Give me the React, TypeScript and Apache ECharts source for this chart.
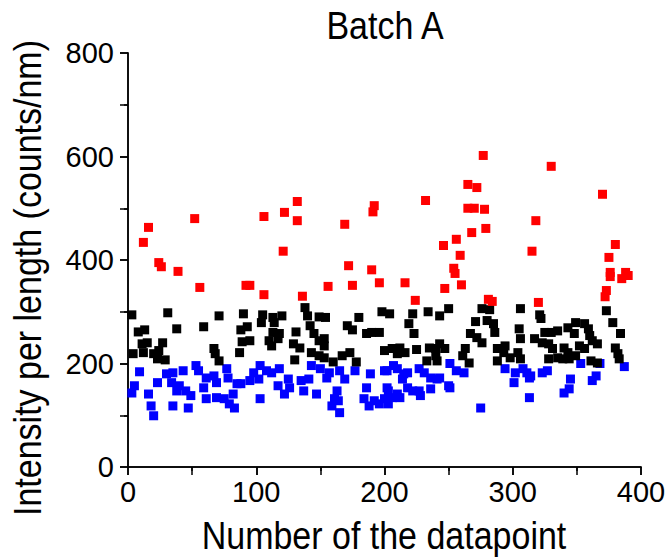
import { useEffect, useRef } from "react";
import * as echarts from "echarts";

const titleText = "Batch A";
const xName = "Number of the datapoint";
const yName = "Intensity per length (counts/nm)";

const redPoints: number[][] = [
  [12, 434], [16, 463], [24, 395], [26, 387], [39, 378], [52, 480], [56, 347], [92, 351], [95, 351],
  [106, 333], [106, 484], [122, 492], [121, 417], [132, 513], [132, 476], [136, 330], [156, 349],
  [169, 469], [172, 389], [175, 351], [192, 505], [191, 493], [190, 381], [196, 356], [216, 356],
  [224, 322], [232, 515], [246, 428], [256, 440], [259, 409], [254, 384], [255, 374], [247, 345],
  [260, 352], [265, 546], [265, 500], [268, 453], [277, 602], [272, 540], [270, 500], [278, 498],
  [279, 461], [281, 324], [284, 320], [330, 581], [318, 476], [315, 417], [320, 318], [370, 527],
  [380, 430], [375, 405], [376, 376], [376, 368], [388, 376], [385, 364], [390, 370], [373, 341], [372, 329],
];

const blackPoints: number[][] = [
  [3, 294], [31, 298], [71, 292], [90, 296], [8, 261], [13, 265], [38, 267], [59, 271], [88, 265], [93, 271],
  [11, 238], [15, 240], [27, 240], [89, 242], [95, 244], [4, 219], [12, 221], [20, 219], [24, 225], [29, 207],
  [23, 209], [67, 229], [68, 219], [71, 205], [87, 221],
  [105, 294], [104, 279], [113, 289], [120, 292], [114, 279], [138, 308], [140, 292], [149, 290], [154, 289],
  [113, 260], [118, 258], [131, 261], [142, 273], [145, 258], [171, 273], [175, 265], [180, 289], [186, 258],
  [190, 260], [196, 260], [198, 300], [110, 244], [112, 234], [117, 248], [129, 238], [134, 230], [149, 244],
  [153, 248], [153, 234], [143, 221], [149, 215], [153, 211], [130, 207], [160, 203], [167, 215], [173, 221],
  [178, 203], [200, 225],
  [204, 296], [222, 296], [219, 277], [223, 258], [234, 300], [243, 292], [250, 306], [276, 306], [282, 304],
  [271, 281], [280, 283], [285, 277], [286, 260], [267, 258], [272, 250], [276, 240], [206, 229], [212, 230],
  [210, 219], [216, 221], [225, 227], [235, 230], [240, 229], [243, 238], [247, 229], [233, 205], [241, 205],
  [240, 215], [263, 229], [261, 215], [266, 201], [288, 229], [293, 221], [294, 234], [298, 211], [288, 205],
  [306, 306], [321, 294], [322, 287], [373, 302], [378, 279], [384, 258], [305, 267], [306, 248], [317, 248],
  [325, 260], [330, 260], [335, 263], [343, 269], [349, 279], [356, 277], [359, 267], [323, 240], [328, 238],
  [331, 229], [348, 258], [360, 254], [362, 244], [366, 238], [340, 230], [343, 221], [352, 234], [356, 229],
  [304, 221], [306, 209], [328, 209], [335, 211], [339, 209], [344, 209], [349, 215], [361, 205], [366, 201],
  [380, 230], [382, 219], [383, 209],
];

const bluePoints: number[][] = [
  [9, 184], [5, 157], [3, 143], [16, 141], [18, 118], [20, 99], [23, 163], [30, 180], [35, 182], [43, 186],
  [53, 196], [55, 186], [34, 163], [40, 157], [38, 147], [45, 147], [49, 138], [35, 118], [47, 114], [61, 172],
  [67, 176], [69, 163], [59, 153], [61, 132], [69, 134], [75, 132], [77, 190], [78, 172], [85, 161], [82, 141],
  [79, 122], [83, 114], [88, 161], [95, 167], [98, 182],
  [103, 196], [108, 186], [112, 182], [118, 190], [102, 170], [117, 157], [125, 170], [126, 153], [122, 141],
  [137, 147], [135, 167], [141, 170], [143, 196], [150, 190], [147, 141], [155, 172], [157, 182], [165, 186],
  [169, 170], [103, 132], [163, 147], [161, 132], [164, 128], [159, 118], [165, 105], [177, 186], [189, 180],
  [186, 153], [200, 186], [184, 132], [188, 118], [192, 128], [196, 122], [200, 132],
  [202, 186], [207, 196], [210, 190], [215, 180], [218, 182], [214, 170], [227, 190], [231, 182], [236, 172],
  [241, 170], [243, 172], [251, 200], [256, 186], [262, 182], [250, 157], [251, 153], [202, 153], [203, 147],
  [206, 134], [210, 141], [212, 134], [218, 153], [222, 147], [227, 147], [228, 138], [236, 151], [203, 122],
  [275, 114], [294, 190], [302, 182], [301, 163],
  [308, 190], [311, 182], [314, 176], [313, 172], [323, 182], [327, 186], [353, 200], [368, 200], [387, 194],
  [365, 176], [362, 167], [345, 170], [344, 151], [340, 143], [313, 134],
];

const FONT = "'Liberation Sans', Arial, sans-serif";

export default function App() {
  const ref = useRef<HTMLDivElement>(null);
  useEffect(() => {
    if (!ref.current) return;
    const chart = echarts.init(ref.current, undefined, { renderer: "svg" });
    const line = { show: true, lineStyle: { color: "#000", width: 1.5 } };
    const hidden = { show: false };
    const marker = (color: string) => ({ color, opacity: 1 });
    chart.setOption({
      animation: false,
      backgroundColor: "#fff",
      grid: { left: 128, right: 28, top: 53, bottom: 93 },
      graphic: [
        {
          type: "text",
          x: 385,
          y: 26,
          scaleY: 1.12,
          style: { text: titleText, font: `34px ${FONT}`, fill: "#000", textAlign: "center", textVerticalAlign: "middle" },
        },
        {
          type: "text",
          x: 384,
          y: 536,
          scaleY: 1.12,
          style: { text: xName, font: `34px ${FONT}`, fill: "#000", textAlign: "center", textVerticalAlign: "middle" },
        },
        {
          type: "text",
          x: 28,
          y: 278,
          rotation: Math.PI / 2,
          scaleY: 1.12,
          style: { text: yName, font: `34px ${FONT}`, fill: "#000", textAlign: "center", textVerticalAlign: "middle" },
        },
      ],
      xAxis: [
        {
          type: "value",
          position: "bottom",
          min: 0,
          max: 400,
          interval: 100,
          axisLine: line,
          axisTick: { show: true, inside: false, length: 8, lineStyle: { color: "#000", width: 1.5 } },
          minorTick: { show: true, splitNumber: 2, length: 4, lineStyle: { color: "#000", width: 1.5 } },
          splitLine: hidden,
          axisLabel: { color: "#000", fontSize: 29, fontFamily: FONT, margin: 10 },
        },
        {
          type: "value",
          position: "top",
          min: 0,
          max: 400,
          interval: 50,
          axisLine: line,
          axisTick: { show: true, inside: true, length: 8, lineStyle: { color: "#000", width: 1.5 } },
          splitLine: hidden,
          axisLabel: hidden,
        },
      ],
      yAxis: [
        {
          type: "value",
          position: "left",
          min: 0,
          max: 800,
          interval: 200,
          axisLine: line,
          axisTick: { show: true, inside: false, length: 8, lineStyle: { color: "#000", width: 1.5 } },
          minorTick: { show: true, splitNumber: 2, length: 4, lineStyle: { color: "#000", width: 1.5 } },
          splitLine: hidden,
          axisLabel: { color: "#000", fontSize: 29, fontFamily: FONT, margin: 14 },
        },
        {
          type: "value",
          position: "right",
          min: 0,
          max: 800,
          interval: 100,
          axisLine: line,
          axisTick: { show: true, inside: true, length: 8, lineStyle: { color: "#000", width: 1.5 } },
          splitLine: hidden,
          axisLabel: hidden,
        },
      ],
      series: [
        { type: "scatter", data: bluePoints, symbol: "rect", symbolSize: 9, itemStyle: marker("#0000ff") },
        { type: "scatter", data: blackPoints, symbol: "rect", symbolSize: 9, itemStyle: marker("#000000") },
        { type: "scatter", data: redPoints, symbol: "rect", symbolSize: 9, itemStyle: marker("#ff0000") },
      ],
    });
    return () => chart.dispose();
  }, []);
  return <div ref={ref} style={{ position: "fixed", left: 0, top: 0, width: 669, height: 560 }} />;
}
